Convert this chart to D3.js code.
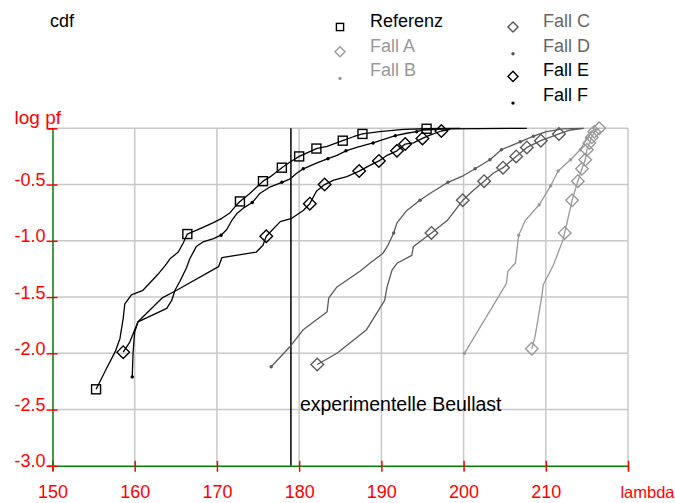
<!DOCTYPE html>
<html><head><meta charset="utf-8">
<script src="https://cdn.jsdelivr.net/npm/d3@7"></script>
<style>
body{margin:0;background:#fff;}
svg{display:block;font-family:"Liberation Sans",Arial,Helvetica,sans-serif;}
</style>
</head><body>
<svg id="chart" width="675" height="503"></svg>
<script>
// ---- data ----
const xTickValues = [150,160,170,180,190,200,210,220];
const xTickLabels = ["150","160","170","180","190","200","210","lambda"];
const yTickValues = [0,-0.5,-1,-1.5,-2,-2.5,-3];
const yTickLabels = ["log pf","-0.5","-1.0","-1.5","-2.0","-2.5","-3.0"];
const beullast = 179.0;
const beullastLabel = "experimentelle Beullast";
const titleLabel = "cdf";

// [lambda, log pf, marker flag]
const referenz = [[155.3,-2.32,1],[156.6,-2.13],[157.6,-1.99],[158.2,-1.87],[158.6,-1.69],[158.8,-1.56],[159.6,-1.48],[161.0,-1.44],[162.8,-1.30],[163.7,-1.22],[164.3,-1.16],[165.3,-1.10],[165.9,-1.02],[166.4,-0.94,1],[168.3,-0.88],[169.5,-0.84],[170.6,-0.80],[171.6,-0.75],[172.4,-0.68],[172.8,-0.65,1],[174.0,-0.58],[175.6,-0.47,1],[176.5,-0.43],[177.9,-0.35,1],[178.9,-0.30],[180.0,-0.25,1],[180.9,-0.22],[182.1,-0.18,1],[183.4,-0.16],[185.3,-0.11,1],[186.6,-0.075],[187.7,-0.05,1],[189.8,-0.03],[192.7,-0.01],[195.5,-0.004,1],[199.6,0]];
const fallA = [[208.3,-1.96,1],[208.7,-1.85],[209.5,-1.50],[209.7,-1.39],[210.9,-1.22],[212.1,-0.99],[212.3,-0.93,1],[213.2,-0.64,1],[213.9,-0.47,1],[214.4,-0.36,1],[214.8,-0.28,1],[215.0,-0.19,1],[215.3,-0.13,1],[215.6,-0.08,1],[215.9,-0.03,1],[216.5,0,1]];
const fallB = [[200.1,-2.00,1],[205.2,-1.38],[205.4,-1.27],[206.3,-1.20],[206.5,-1.08],[206.7,-0.95,1],[207.5,-0.82],[209.2,-0.68,1],[210.6,-0.51,1],[211.5,-0.38,1],[213.0,-0.28,1],[214.2,-0.19,1],[215.0,-0.09,1],[215.8,-0.015],[216.4,0]];
const fallC = [[182.2,-2.10,1],[184.6,-2.00],[188.2,-1.79],[190.4,-1.53],[190.7,-1.41],[191.3,-1.26],[191.9,-1.20],[193.7,-1.13],[193.9,-1.05],[196.1,-0.93,1],[198.0,-0.82],[199.9,-0.64,1],[201.2,-0.55],[202.5,-0.47,1],[203.6,-0.40],[204.8,-0.35,1],[206.4,-0.25,1],[207.7,-0.17,1],[209.4,-0.11,1],[211.6,-0.05,1],[213.0,-0.015],[214.6,0]];
const fallD = [[176.6,-2.12,1],[178.9,-1.94],[180.5,-1.79],[183.4,-1.63],[183.6,-1.51],[184.6,-1.41],[187.4,-1.27],[188.6,-1.20],[190.2,-1.11],[190.8,-1.04],[191.5,-0.93,1],[191.9,-0.84],[193.1,-0.73],[194.7,-0.64,1],[195.9,-0.58],[198.1,-0.48,1],[200.0,-0.42],[201.4,-0.36,1],[203.2,-0.28,1],[204.6,-0.19,1],[206.9,-0.12,1],[208.5,-0.07,1],[210.1,-0.03],[212.1,-0.006],[214.6,0]];
const fallE = [[158.6,-1.99,1],[159.4,-1.90],[160.4,-1.72],[163.3,-1.51],[165.1,-1.44],[170.2,-1.23],[170.6,-1.15],[174.8,-1.10],[175.6,-1.04],[176.0,-0.96,1],[177.7,-0.83],[179.1,-0.80],[180.5,-0.73],[181.3,-0.67,1],[182.1,-0.56],[183.1,-0.50,1],[184.2,-0.46],[185.8,-0.43],[187.3,-0.38,1],[188.6,-0.33],[189.7,-0.29,1],[190.7,-0.24],[191.9,-0.20,1],[192.9,-0.14,1],[193.9,-0.13],[195.0,-0.09,1],[195.9,-0.06],[197.3,-0.024,1],[198.4,-0.01]];
const fallF = [[159.7,-2.21,1],[159.8,-1.99],[160.0,-1.81],[160.4,-1.72],[163.9,-1.60],[164.5,-1.53],[164.9,-1.44],[165.5,-1.36],[166.3,-1.24],[166.7,-1.16],[167.5,-1.05],[168.3,-1.01],[169.6,-0.98],[170.5,-0.95,1],[171.2,-0.90],[171.8,-0.82],[172.4,-0.76],[173.2,-0.71],[174.3,-0.66,1],[175.2,-0.58],[176.5,-0.52],[177.9,-0.48,1],[178.9,-0.45],[179.7,-0.40],[180.5,-0.36,1],[182.1,-0.31],[183.5,-0.27,1],[184.6,-0.24],[185.7,-0.20,1],[187.0,-0.17],[189.0,-0.13,1],[190.2,-0.10],[191.7,-0.066,1],[193.1,-0.044],[194.3,-0.03,1],[195.1,-0.015],[198.0,-0.006],[207.7,0]];

const seriesNames = ["Referenz","Fall A","Fall B","Fall C","Fall D","Fall E","Fall F"];
const seriesData = [referenz,fallA,fallB,fallC,fallD,fallE,fallF];
const seriesColors = ["#000000","#999999","#999999","#5a5a5a","#5a5a5a","#000000","#000000"];
const textColors = ["#000000","#999999","#999999","#666666","#666666","#000000","#000000"];
const seriesMarkers = ["square","diamond","dot","diamond","dot","diamond","dot"];

// ---- layout ----
const svg = d3.select("#chart");
const x = d3.scaleLinear().domain([150,220]).range([52.5,628]);
const y = d3.scaleLinear().domain([0,-3]).range([128.3,465.8]);
const FS = 18;

// grid
const grid = svg.append("g").attr("stroke","#c8c8c8").attr("stroke-width",1.5);
grid.selectAll("line.v").data(xTickValues.slice(1)).join("line")
  .attr("x1",d=>x(d)).attr("x2",d=>x(d)).attr("y1",y(0)).attr("y2",y(-3));
grid.selectAll("line.h").data(yTickValues.slice(0,-1)).join("line")
  .attr("x1",x(150)).attr("x2",x(220)).attr("y1",d=>y(d)).attr("y2",d=>y(d));

// experimental buckling load
svg.append("line").attr("x1",x(beullast)).attr("x2",x(beullast))
  .attr("y1",y(0)).attr("y2",y(-3)).attr("stroke","#000").attr("stroke-width",1.5);
svg.append("text").attr("x",x(beullast)+9).attr("y",y(-2.5)+1)
  .attr("font-size",19.5).attr("fill","#000").text(beullastLabel);

// markers
function drawMarker(g, type, cx, cy, color, scale){
  if(type==="square"){
    const s = 4.5*scale;
    g.append("rect").attr("x",cx-s).attr("y",cy-s).attr("width",2*s).attr("height",2*s)
      .attr("fill","none").attr("stroke",color).attr("stroke-width",1.4);
  } else if(type==="diamond"){
    const r = 6.3*scale;
    g.append("path").attr("d",`M${cx},${cy-r}L${cx+r},${cy}L${cx},${cy+r}L${cx-r},${cy}Z`)
      .attr("fill","none").attr("stroke",color).attr("stroke-width",1.4);
  } else {
    g.append("circle").attr("cx",cx).attr("cy",cy).attr("r",1.7).attr("fill",color);
  }
}

const line = d3.line().x(d=>x(d[0])).y(d=>y(d[1]));
const plot = svg.append("g");
seriesData.forEach((data,i)=>{
  plot.append("path").datum(data).attr("d",line).attr("fill","none")
    .attr("stroke",seriesColors[i]).attr("stroke-width",1.3).attr("stroke-linejoin","round");
  const mg = plot.append("g");
  data.filter(d=>d[2]).forEach(d=>drawMarker(mg, seriesMarkers[i], x(d[0]), y(d[1]), seriesColors[i], 1));
});

// axes
const xAxis = d3.axisBottom(x).tickValues(xTickValues).tickFormat((d,i)=>xTickLabels[i]).tickSizeOuter(0).tickSize(5);
const gx = svg.append("g").attr("transform",`translate(0,${y(-3)})`).call(xAxis);
gx.select(".domain").attr("stroke","#008000").attr("stroke-width",1.5);
gx.selectAll(".tick line").attr("stroke","#ff0000").attr("stroke-width",1.5).attr("y1",-5).attr("y2",6);
gx.selectAll(".tick text").attr("fill","#ff0000").attr("font-size",FS).attr("font-family",null)
  .attr("y",32).attr("dy",0);
gx.selectAll(".tick text").filter((d)=>d===220).attr("text-anchor","end").attr("x",46).attr("font-size",16.5);

const yAxis = d3.axisLeft(y).tickValues(yTickValues).tickFormat((d,i)=>yTickLabels[i]).tickSizeOuter(0).tickSize(5);
const gy = svg.append("g").attr("transform",`translate(${x(150)},0)`).call(yAxis);
gy.select(".domain").attr("stroke","#008000").attr("stroke-width",1.5);
gy.selectAll(".tick line").attr("stroke","#ff0000").attr("stroke-width",1.5).attr("x1",-6).attr("x2",5);
gy.selectAll(".tick text").attr("fill","#ff0000").attr("font-size",FS).attr("font-family",null)
  .attr("x",-7).attr("dy",0).attr("y",1);
gy.selectAll(".tick text").filter(d=>d===0).attr("text-anchor","start").attr("x",-38).attr("y",-5).attr("font-size",19);

// title
svg.append("text").attr("x",50).attr("y",27).attr("font-size",FS).attr("fill","#000").text(titleLabel);

// legend
const legendCols = [{mx:340, tx:370},{mx:513, tx:543}];
const legendRows = [27, 51.7, 76.4, 101.1];
const legend = svg.append("g");
seriesNames.forEach((name,i)=>{
  const col = i<3 ? 0 : 1;
  const row = i<3 ? i : i-3;
  const by = legendRows[row];
  const my = seriesMarkers[i]==="dot" ? by+2 : by;
  drawMarker(legend, seriesMarkers[i], legendCols[col].mx, my, seriesColors[i]==="#5a5a5a"?"#555":seriesColors[i], 0.8);
  legend.append("text").attr("x",legendCols[col].tx).attr("y",by)
    .attr("font-size",FS).attr("fill",textColors[i]).text(name);
});
</script>
</body></html>
